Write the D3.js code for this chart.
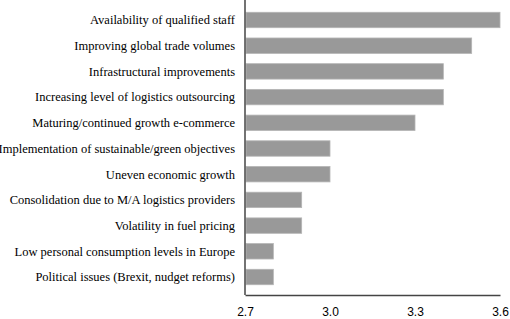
<!DOCTYPE html>
<html>
<head>
<meta charset="utf-8">
<script src="https://cdn.jsdelivr.net/npm/d3@7"></script>
<style>
  body { margin: 0; background: #fff; }
</style>
</head>
<body>
<div id="chart"></div>
<script>
// factors and their mean scores
const factors = [
  'Availability of qualified staff',
  'Improving global trade volumes',
  'Infrastructural improvements',
  'Increasing level of logistics outsourcing',
  'Maturing/continued growth e-commerce',
  'Implementation of sustainable/green objectives',
  'Uneven economic growth',
  'Consolidation due to M/A logistics providers',
  'Volatility in fuel pricing',
  'Low personal consumption levels in Europe',
  'Political issues (Brexit, nudget reforms)'
];
const scores = [3.6, 3.5, 3.4, 3.4, 3.3, 3.0, 3.0, 2.9, 2.9, 2.8, 2.8];
const ticks = [2.7, 3.0, 3.3, 3.6];

const width = 510, height = 319;
const margin = { top: 2, right: 10, bottom: 24, left: 245 };

const svg = d3.select('#chart').append('svg')
  .attr('width', width)
  .attr('height', height);

const x = d3.scaleLinear()
  .domain([2.7, 3.6])
  .range([margin.left, width - margin.right]);

const y = d3.scaleBand()
  .domain(factors)
  .range([margin.top, height - margin.bottom])
  .padding(0.4);

const data = factors.map((f, i) => ({ factor: f, score: scores[i] }));

// bars
svg.selectAll('.bar')
  .data(data)
  .enter().append('rect')
  .attr('class', 'bar')
  .attr('x', x(2.7) + 1)
  .attr('y', d => y(d.factor))
  .attr('width', d => x(d.score) - x(2.7) - 1)
  .attr('height', y.bandwidth())
  .attr('fill', '#999999')
  .attr('stroke', '#b5b5b5')
  .attr('stroke-width', 0.8);

// category labels
svg.selectAll('.label')
  .data(data)
  .enter().append('text')
  .attr('class', 'label')
  .attr('x', margin.left - 10)
  .attr('y', d => y(d.factor) + y.bandwidth() / 2)
  .attr('dy', '0.35em')
  .attr('text-anchor', 'end')
  .style('font-family', '"Liberation Serif", "Times New Roman", serif')
  .style('font-size', '12.5px')
  .attr('fill', '#000')
  .text(d => d.factor);

// axes
const xAxis = d3.axisBottom(x)
  .tickValues(ticks)
  .tickFormat(d3.format('.1f'))
  .tickSize(0)
  .tickPadding(12);

const gx = svg.append('g')
  .attr('transform', 'translate(0,' + (height - margin.bottom) + ')')
  .call(xAxis);
gx.select('.domain').attr('stroke', '#444').attr('stroke-width', 1.5);
gx.selectAll('text')
  .style('font-family', '"Liberation Sans", Arial, sans-serif')
  .style('font-size', '12px')
  .attr('fill', '#000');

svg.append('line')
  .attr('x1', x(2.7)).attr('x2', x(2.7))
  .attr('y1', 0).attr('y2', height - margin.bottom)
  .attr('stroke', '#444')
  .attr('stroke-width', 1.5);
</script>
</body>
</html>
